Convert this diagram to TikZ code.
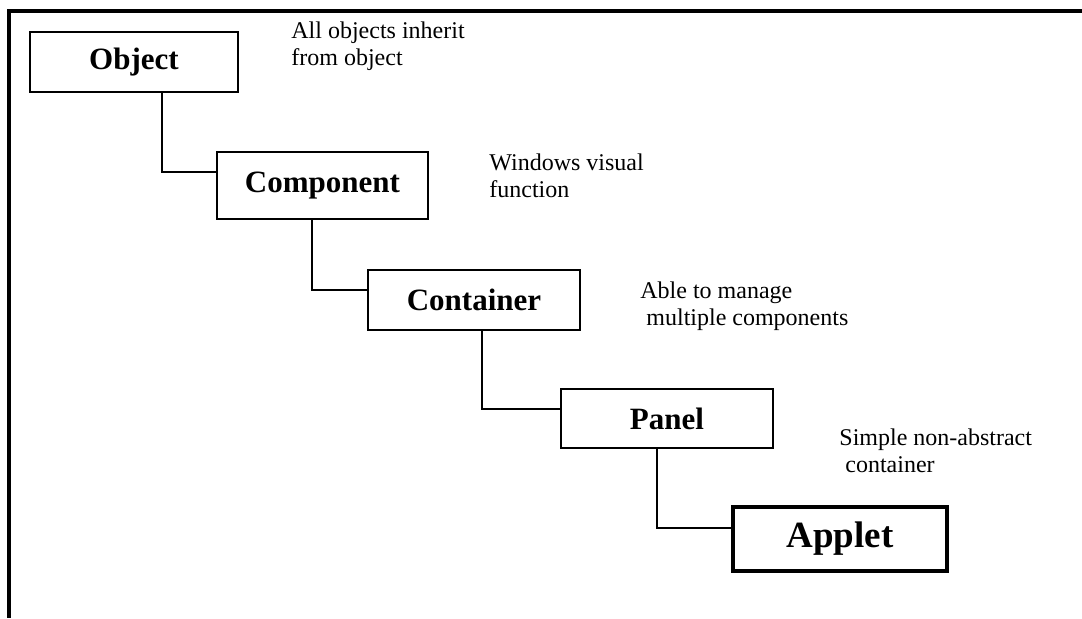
\documentclass[tikz,border=0pt]{standalone}
\usepackage{fontspec}
\setmainfont{Liberation Serif}
\begin{document}
\begin{tikzpicture}[x=0.5pt,y=-0.5pt,
  classbox/.style={draw, line width=1.1pt, inner sep=0pt, font=\bfseries\fontsize{15.5}{18}\selectfont},
  mainbox/.style={draw, line width=2.4pt, inner sep=0pt, font=\bfseries\fontsize{18.5}{22}\selectfont},
  note/.style={anchor=base west, inner sep=0pt, align=left, font=\fontsize{12}{13.5}\selectfont},
  link/.style={line width=1.1pt}]
  \useasboundingbox (0,0) rectangle (1082,618);

  % page frame, only its top and left edges fall on the page
  \coordinate (fr1) at (1082,11);
  \coordinate (fr2) at (9,11);
  \coordinate (fr3) at (9,618);
  \draw[line width=1.6pt] (fr1) -- (fr2) -- (fr3);

  % class hierarchy
  \node[classbox, minimum width=104pt, minimum height=30pt] (obj)  at (134,62)    {Object};
  \node[classbox, minimum width=105.5pt, minimum height=33.5pt] (comp) at (322.5,185.5) {Component};
  \node[classbox, minimum width=106pt, minimum height=30pt] (cont) at (474,300)   {Container};
  \node[classbox, minimum width=106pt, minimum height=29.5pt] (pan)  at (667,418.5) {Panel};
  \node[mainbox,  minimum width=107pt, minimum height=32pt] (app)  at (840,539)   {Applet};

  % inheritance links
  \draw[link] ([xshift=14pt]obj.south)   |- ([yshift=6.75pt]comp.west);
  \draw[link] ([xshift=-5.25pt]comp.south) |- ([yshift=5pt]cont.west);
  \draw[link] ([xshift=4pt]cont.south)   |- ([yshift=4.75pt]pan.west);
  \draw[link] ([xshift=-5pt]pan.south)   |- ([yshift=5.5pt]app.west);

  % descriptions (placed by the baseline of their last line)
  \node[note] (n1) at (291,65)  {All objects inherit\\from object};
  \node[note] (n2) at (489,197) {Windows visual\\function};
  \node[note] (n3) at (640,325) {Able to manage\\\ multiple components};
  \node[note] (n4) at (839,472) {Simple non-abstract\\\ container};
\end{tikzpicture}
\end{document}
